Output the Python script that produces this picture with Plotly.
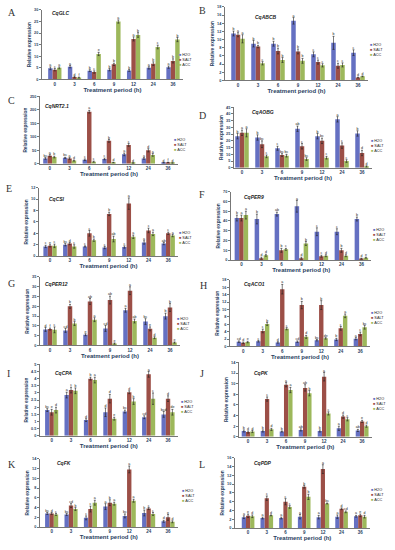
import plotly.graph_objects as go

W, H = 395, 550
times = ["0", "3", "6", "9", "12", "24", "36"]
series_names = ["H2O", "SALT", "ACC"]
colors = ["#6570C2", "#9C4F47", "#9DB85B"]

# ---- data: [H2O, SALT, ACC] for each panel ----
A_val = [[4.8, 5.5, 3.8, 4.2, 3.9, 5.0, 5.3], [4.2, 1.0, 3.2, 6.5, 17.5, 6.8, 8.0], [5.0, 0.8, 11.0, 25.0, 19.2, 14.0, 17.2]]
A_err = [[0.6, 0.5, 0.4, 0.5, 0.4, 0.5, 0.5], [0.5, 0.3, 0.5, 0.5, 0.9, 0.8, 0.9], [0.4, 0.2, 0.7, 0.7, 1.0, 0.8, 0.9]]
A_let = [["a", "a", "b", "b", "b", "a", "a"], ["c", "d", "c", "b", "a", "b", "b"], ["a", "f", "e", "a", "b", "c", "b"]]

B_val = [[11.5, 9.0, 9.0, 14.6, 6.4, 9.2, 6.8], [11.2, 8.3, 7.2, 7.1, 4.5, 3.6, 0.7], [10.2, 4.2, 5.0, 4.8, 3.7, 3.8, 1.0]]
B_err = [[0.6, 0.8, 0.6, 0.8, 0.6, 1.6, 0.7], [0.5, 0.3, 0.7, 0.6, 0.5, 0.6, 0.1], [1.0, 0.4, 0.6, 0.6, 0.4, 0.5, 0.1]]
B_let = [["b", "b", "b", "a", "c", "b", "c"], ["a", "b", "b", "b", "c", "c", "d"], ["a", "c", "b", "b", "c", "c", "d"]]

C_val = [[20, 22, 15, 18, 35, 20, 4], [30, 20, 193, 85, 70, 50, 5], [25, 12, 8, 5, 3, 33, 3]]
C_err = [[3, 2, 3, 3, 5, 3, 1], [4, 3, 5, 5, 5, 6, 1], [3, 2, 2, 1, 1, 5, 1]]
C_let = [["bc", "bc", "c", "c", "a", "a", "d"], ["a", "a", "a", "b", "c", "d", "f"], ["b", "d", "c", "d", "d", "a", "d"]]

D_val = [[23.5, 22.5, 14.5, 29.0, 23.5, 36.0, 25.5], [26.0, 17.5, 9.5, 16.0, 20.0, 16.5, 11.0], [26.0, 8.5, 9.0, 6.5, 7.5, 5.0, 1.0]]
D_err = [[2, 2, 1.5, 2, 2, 2, 2], [2, 2.5, 1, 2, 2, 2, 2], [3, 1, 1, 1, 1, 1, 0.5]]
D_let = [["b", "b", "c", "ab", "b", "a", "b"], ["a", "bc", "bc", "c", "bc", "c", "d"], ["a", "c", "bc", "bc", "c", "c", "d"]]

E_val = [[1.7, 2.0, 1.7, 1.5, 1.6, 2.4, 2.2], [1.8, 2.2, 4.0, 7.4, 9.2, 4.5, 4.0], [1.8, 1.7, 2.8, 3.0, 3.4, 3.9, 3.6]]
E_err = [[0.2, 0.2, 0.1, 0.2, 0.2, 0.3, 0.2], [0.2, 0.2, 0.5, 0.3, 1.0, 0.4, 0.2], [0.3, 0.3, 0.2, 0.5, 0.3, 0.3, 0.2]]
E_let = [["c", "bc", "c", "c", "c", "a", "ab"], ["e", "d", "c", "b", "a", "c", "c"], ["c", "c", "b", "ab", "a", "a", "a"]]

F_val = [[43, 42, 47, 55, 29, 29, 42], [43, 2, 10, 2, 4, 10, 1.5], [46, 5, 11, 17, 4.5, 4.5, 2.5]]
F_err = [[3, 5, 2, 6, 4, 3, 2], [3, 1, 2, 1, 1, 2, 0.5], [4, 1, 1, 2, 1, 1, 0.5]]
F_let = [["b", "b", "ab", "a", "c", "c", "b"], ["a", "d", "b", "d", "c", "b", "d"], ["a", "d", "c", "b", "d", "d", "e"]]

G_val = [[8.2, 7.7, 5.5, 8.7, 18.0, 12.2, 15.0], [8.4, 20.0, 22.5, 23.2, 28.0, 8.5, 19.4], [8.0, 11.2, 13.2, 1.0, 12.5, 4.0, 1.5]]
G_err = [[1, 1, 0.5, 1.5, 1, 1.5, 1.5], [0.5, 1, 1.5, 2, 2, 1, 2], [1.5, 1, 1, 0.3, 1, 0.5, 0.3]]
G_let = [["d", "cd", "e", "cd", "a", "bc", "b"], ["f", "b", "ab", "ab", "a", "e", "b"], ["c", "b", "a", "e", "ab", "d", "e"]]

H_val = [[1.3, 1.4, 1.1, 1.3, 1.7, 1.9, 2.1], [1.0, 4.2, 15.5, 11.2, 11.2, 4.9, 3.4], [1.2, 6.1, 4.8, 2.6, 2.2, 8.3, 5.2]]
H_err = [[0.2, 0.2, 0.2, 0.2, 0.2, 0.3, 0.3], [0.2, 0.5, 1.3, 1.0, 1.2, 0.5, 0.5], [0.2, 0.4, 0.3, 0.4, 0.2, 0.5, 0.5]]
H_let = [["cd", "c", "d", "cd", "bc", "b", "a"], ["d", "c", "a", "b", "b", "c", "c"], ["e", "b", "c", "d", "de", "a", "bc"]]

I_val = [[1.8, 2.85, 1.1, 1.65, 1.7, 1.3, 1.5], [1.65, 3.2, 4.0, 2.6, 3.05, 4.3, 2.6], [1.8, 3.15, 3.9, 1.2, 2.4, 2.6, 1.65]]
I_err = [[0.1, 0.2, 0.1, 0.3, 0.1, 0.1, 0.2], [0.2, 0.2, 0.1, 0.3, 0.1, 0.2, 0.2], [0.2, 0.2, 0.2, 0.1, 0.2, 0.4, 0.2]]
I_let = [["bc", "a", "d", "d", "bc", "cd", "bcd"], ["e", "c", "b", "d", "d", "a", "d"], ["d", "b", "a", "e", "b", "c", "de"]]

J_val = [[1.1, 1.1, 1.0, 1.3, 1.1, 1.6, 1.2], [0.9, 7.1, 9.8, 9.2, 11.3, 3.8, 2.9], [1.0, 1.4, 8.8, 8.2, 4.4, 3.3, 2.0]]
J_err = [[0.2, 0.2, 0.1, 0.2, 0.2, 0.4, 0.2], [0.2, 0.4, 0.4, 0.6, 0.8, 0.3, 0.2], [0.2, 0.2, 0.5, 0.5, 0.3, 0.3, 0.2]]
J_let = [["b", "b", "b", "ab", "b", "a", "ab"], ["d", "c", "a", "ab", "a", "d", "e"], ["d", "d", "a", "b", "c", "c", "d"]]

K_val = [[2.8, 2.6, 1.9, 4.2, 2.3, 2.9, 1.2], [2.8, 4.4, 3.7, 5.0, 11.8, 3.8, 2.0], [2.6, 3.7, 5.0, 4.8, 5.4, 2.7, 1.1]]
K_err = [[0.2, 0.2, 0.4, 0.6, 0.4, 0.6, 0.2], [0.2, 0.4, 0.6, 0.6, 0.7, 0.2, 0.6], [0.2, 0.3, 0.5, 0.3, 0.3, 0.3, 0.2]]
K_let = [["bc", "bc", "c", "a", "bc", "b", "d"], ["d", "cd", "c", "b", "a", "c", "e"], ["c", "b", "a", "a", "a", "c", "d"]]

L_val = [[2.5, 2.3, 2.3, 2.6, 2.5, 2.6, 2.7], [2.8, 6.8, 6.0, 9.4, 13.4, 4.4, 2.9], [2.7, 2.9, 4.8, 7.1, 5.6, 3.7, 2.6]]
L_err = [[0.3, 0.2, 0.2, 0.5, 0.4, 0.4, 0.2], [0.4, 0.5, 0.7, 0.3, 1.0, 0.2, 0.3], [0.3, 0.1, 0.3, 0.6, 0.1, 0.2, 0.3]]
L_let = [["a", "a", "a", "a", "a", "a", "a"], ["e", "c", "c", "b", "a", "d", "e"], ["d", "d", "c", "b", "bc", "cd", "d"]]

panel_ids = ["A", "B", "C", "D", "E", "F", "G", "H", "I", "J", "K", "L"]
genes = ["CqGLC", "CqABCB", "CqNRT2.1", "CqAOBG", "CqCSI", "CqPER9",
         "CqPER12", "CqACO1", "CqCPA", "CqPK", "CqFK", "CqPDP"]
y_max = [30, 18, 250, 45, 12, 70, 35, 18, 5, 14, 14, 16]
y_step = [5, 2, 50, 5, 2, 10, 5, 2, 0.5, 2, 2, 2]
vals = [A_val, B_val, C_val, D_val, E_val, F_val, G_val, H_val, I_val, J_val, K_val, L_val]
errs = [A_err, B_err, C_err, D_err, E_err, F_err, G_err, H_err, I_err, J_err, K_err, L_err]
lets = [A_let, B_let, C_let, D_let, E_let, F_let, G_let, H_let, I_let, J_let, K_let, L_let]

# ---- layout geometry (pixels) ----
geom = [
    dict(x0=42, lo=-0.65, s=19.7, top=8, bot=78, lgx=177, lgy=53, gx=50, gy=11, px=6, py=11),
    dict(x0=225, lo=-0.65, s=20.0, top=5, bot=79, lgx=368, lgy=43, gx=253, gy=15, px=197, py=9),
    dict(x0=40, lo=-0.5, s=19.7, top=95, bot=163, lgx=172, lgy=139, gx=43, gy=105, px=6, py=99),
    dict(x0=234, lo=-0.4, s=20.0, top=106, bot=167, lgx=369, lgy=140, gx=250, gy=111, px=197, py=114),
    dict(x0=39, lo=-0.56, s=19.7, top=187, bot=256, lgx=177, lgy=233, gx=47, gy=198, px=4, py=188),
    dict(x0=231, lo=-0.52, s=20.0, top=191, bot=260, lgx=371, lgy=230, gx=242, gy=196, px=197, py=194),
    dict(x0=40, lo=-0.5, s=20.0, top=277, bot=346, lgx=175, lgy=319, gx=43, gy=284, px=6, py=284),
    dict(x0=230, lo=-0.68, s=19.5, top=280, bot=347, lgx=369, lgy=313, gx=242, gy=284, px=198, py=286),
    dict(x0=40, lo=-0.6, s=19.4, top=365, bot=437, lgx=179, lgy=403, gx=53, gy=374, px=5, py=374),
    dict(x0=239, lo=-0.48, s=19.0, top=363, bot=438, lgx=371, lgy=400, gx=252, gy=374, px=198, py=374),
    dict(x0=40, lo=-0.6, s=19.4, top=460, bot=529, lgx=180, lgy=493, gx=55, gy=464, px=6, py=466),
    dict(x0=235, lo=-0.7, s=18.7, top=459, bot=530, lgx=369, lgy=492, gx=252, gy=464, px=197, py=466),
]

bar_w = 0.225
font = "Liberation Sans"
fig = go.Figure()
annotations = []
idx = list(range(len(times)))

for p in range(12):
    g = geom[p]
    sfx = "" if p == 0 else str(p + 1)
    xa, ya = "x" + sfx, "y" + sfx
    tops_x, tops_y, tops_t = [], [], []
    for k in range(3):
        off = (k - 1) * bar_w
        fig.add_trace(go.Bar(
            x=idx, y=vals[p][k], width=bar_w, offset=off - bar_w / 2,
            marker=dict(color=colors[k], line=dict(width=0)),
            error_y=dict(type="data", array=errs[p][k], color="#222", thickness=0.6, width=1),
            name=series_names[k], showlegend=False, xaxis=xa, yaxis=ya,
        ))
        for i in idx:
            tops_x.append(i + off)
            tops_y.append(vals[p][k][i] + errs[p][k][i])
            tops_t.append(lets[p][k][i])
    fig.add_trace(go.Scatter(
        x=tops_x, y=tops_y, text=tops_t, mode="text", textposition="top center",
        textfont=dict(size=3.6, color="#222", family=font), showlegend=False,
        xaxis=xa, yaxis=ya, cliponaxis=False, hoverinfo="skip",
    ))
    x1 = g["x0"] + (6.5 - g["lo"]) * g["s"]
    ticks = []
    v = 0
    while v <= y_max[p] + 1e-9:
        ticks.append(round(v, 2))
        v += y_step[p]
    fig.layout["xaxis" + sfx] = dict(
        domain=[g["x0"] / W, x1 / W], range=[g["lo"], 6.5], anchor=ya,
        tickvals=idx, ticktext=times, ticks="", showgrid=False, zeroline=False,
        showline=True, linecolor="#777", linewidth=0.8,
        tickfont=dict(size=4.5, family=font, weight="bold"),
        title=dict(text="Treatment period (h)", font=dict(size=6, family=font, weight="bold"), standoff=1),
    )
    fig.layout["yaxis" + sfx] = dict(
        domain=[1 - g["bot"] / H, 1 - g["top"] / H], range=[0, y_max[p]], anchor=xa,
        tickvals=ticks, ticks="outside", ticklen=2, tickwidth=0.6, tickcolor="#777",
        showgrid=False, zeroline=False, showline=True, linecolor="#777", linewidth=0.8,
        tickfont=dict(size=3.8, family=font, weight="bold"),
        title=dict(text="Relative expression", font=dict(size=4.8, family=font, weight="bold"), standoff=2),
    )
    # gene label
    annotations.append(dict(
        x=g["gx"] / W, y=1 - g["gy"] / H, xref="paper", yref="paper",
        text="<b><i>" + genes[p] + "</i></b>", showarrow=False, xanchor="left", yanchor="middle",
        font=dict(size=5, family=font, color="#222"),
    ))
    # panel letter
    annotations.append(dict(
        x=g["px"] / W, y=1 - g["py"] / H, xref="paper", yref="paper",
        text=panel_ids[p], showarrow=False, xanchor="left", yanchor="middle",
        font=dict(size=10, family="Liberation Serif", color="#333"),
    ))
    # legend
    for k in range(3):
        annotations.append(dict(
            x=g["lgx"] / W, y=1 - (g["lgy"] + 5 * k) / H, xref="paper", yref="paper",
            text="<span style='color:%s'>■</span> %s" % (colors[k], series_names[k]),
            showarrow=False, xanchor="left", yanchor="middle",
            font=dict(size=3.8, family=font, color="#222"),
        ))

fig.update_layout(
    width=W, height=H, margin=dict(l=0, r=0, t=0, b=0),
    paper_bgcolor="white", plot_bgcolor="white",
    annotations=annotations, barmode="overlay", showlegend=False,
)
fig.write_html(
    "out.html",
    config={"displayModeBar": False},
    post_script="document.body.style.margin='0';document.body.style.overflow='hidden';",
)
